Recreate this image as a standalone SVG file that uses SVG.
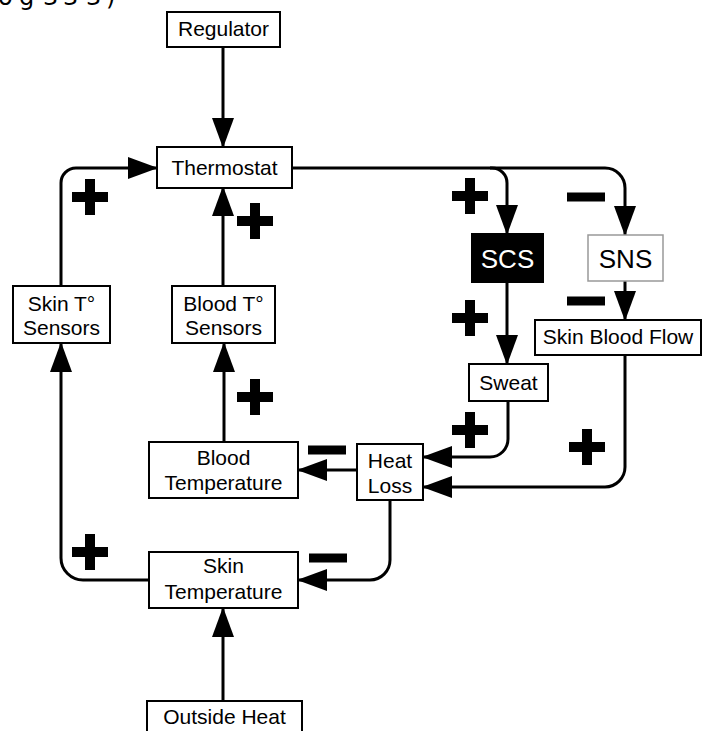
<svg xmlns="http://www.w3.org/2000/svg" width="703" height="731" viewBox="0 0 703 731">
<style>
.box{fill:#fff;stroke:#000;stroke-width:2}
.lbl{font-family:"Liberation Sans",Arial,sans-serif;font-size:21px;fill:#000;text-anchor:middle}
.big{font-size:26px}
.con{fill:none;stroke:#000;stroke-width:3}
.sign{fill:#000}
</style>
<defs>
<marker id="ah" markerUnits="userSpaceOnUse" markerWidth="30" markerHeight="22" refX="29" refY="11" orient="auto">
<path d="M0,0 L30,11 L0,22 z" fill="#000"/>
</marker>
<path id="plus" d="M-18,-5 H-5 V-18 H5 V-5 H18 V5 H5 V18 H-5 V5 H-18 z"/>
<rect id="minus" x="-19" y="-4.5" width="38" height="9"/>
</defs>
<rect width="703" height="731" fill="#fff"/>
<text x="0" y="5" font-family="DejaVu Sans,sans-serif" font-size="24" fill="#000"><tspan x="-2">o</tspan><tspan x="19">g</tspan><tspan x="43">3</tspan><tspan x="63">3</tspan><tspan x="86">3</tspan><tspan x="106">)</tspan></text>

<g id="connectors">
<path class="con" d="M223,47 V147" marker-end="url(#ah)"/>
<path class="con" d="M292,168 H492 A15,15 0 0 1 507,183 V234" marker-end="url(#ah)"/>
<path class="con" d="M490,168 H605 A20,20 0 0 1 625,188 V235" marker-end="url(#ah)"/>
<path class="con" d="M625,281 V320" marker-end="url(#ah)"/>
<path class="con" d="M507,282 V364" marker-end="url(#ah)"/>
<path class="con" d="M508,401 V439 A18,18 0 0 1 490,457 H423" marker-end="url(#ah)"/>
<path class="con" d="M625,355 V467 A20,20 0 0 1 605,487 H423" marker-end="url(#ah)"/>
<path class="con" d="M357,470 H298" marker-end="url(#ah)"/>
<path class="con" d="M390,500 V560 A20,20 0 0 1 370,580 H298" marker-end="url(#ah)"/>
<path class="con" d="M149,580 H83 A22,22 0 0 1 61,558 V343" marker-end="url(#ah)"/>
<path class="con" d="M61,286 V183 A15,15 0 0 1 76,168 H157" marker-end="url(#ah)"/>
<path class="con" d="M223,286 V187" marker-end="url(#ah)"/>
<path class="con" d="M224,442 V343" marker-end="url(#ah)"/>
<path class="con" d="M223,701 V608" marker-end="url(#ah)"/>
</g>

<g id="signs" class="sign">
<use href="#plus" x="90" y="197"/>
<use href="#plus" x="255" y="221"/>
<use href="#plus" x="470" y="196"/>
<use href="#plus" x="470" y="318"/>
<use href="#plus" x="255" y="397"/>
<use href="#plus" x="470" y="430"/>
<use href="#plus" x="587" y="447"/>
<use href="#plus" x="90" y="552"/>
<use href="#minus" x="586" y="197"/>
<use href="#minus" x="586" y="301"/>
<use href="#minus" x="327" y="450"/>
<use href="#minus" x="328" y="558"/>
</g>

<g id="regulator"><rect class="box" x="167" y="12" width="113" height="35"/><text class="lbl" x="223.5" y="36">Regulator</text></g>
<g id="thermostat"><rect class="box" x="157" y="147" width="135" height="41"/><text class="lbl" x="224.5" y="175">Thermostat</text></g>
<g id="scs"><rect x="472" y="234" width="71" height="48" fill="#000" stroke="#000" stroke-width="2"/><text class="lbl big" x="507.5" y="268" fill="#fff" style="fill:#fff">SCS</text></g>
<g id="sns"><rect x="588" y="235" width="75" height="46" fill="#fff" stroke="#999" stroke-width="1.5"/><text class="lbl big" x="625.5" y="268">SNS</text></g>
<g id="skin-blood-flow"><rect class="box" x="535" y="320" width="166" height="35"/><text class="lbl" x="618" y="344">Skin Blood Flow</text></g>
<g id="sweat"><rect class="box" x="469" y="364" width="79" height="37"/><text class="lbl" x="508.5" y="390">Sweat</text></g>
<g id="skin-t-sensors"><rect class="box" x="13" y="286" width="97" height="57"/><text class="lbl" x="61.5" y="311">Skin T°</text><text class="lbl" x="61.5" y="335">Sensors</text></g>
<g id="blood-t-sensors"><rect class="box" x="172" y="286" width="103" height="57"/><text class="lbl" x="223.5" y="311">Blood T°</text><text class="lbl" x="223.5" y="335">Sensors</text></g>
<g id="heat-loss"><rect class="box" x="357" y="444" width="66" height="56"/><text class="lbl" x="390" y="468">Heat</text><text class="lbl" x="390" y="493">Loss</text></g>
<g id="blood-temperature"><rect class="box" x="149" y="442" width="149" height="56"/><text class="lbl" x="223.5" y="465">Blood</text><text class="lbl" x="223.5" y="490">Temperature</text></g>
<g id="skin-temperature"><rect class="box" x="149" y="552" width="149" height="56"/><text class="lbl" x="223.5" y="573">Skin</text><text class="lbl" x="223.5" y="599">Temperature</text></g>
<g id="outside-heat"><rect class="box" x="147" y="701" width="155" height="40"/><text class="lbl" x="224.5" y="724">Outside Heat</text></g>
</svg>
